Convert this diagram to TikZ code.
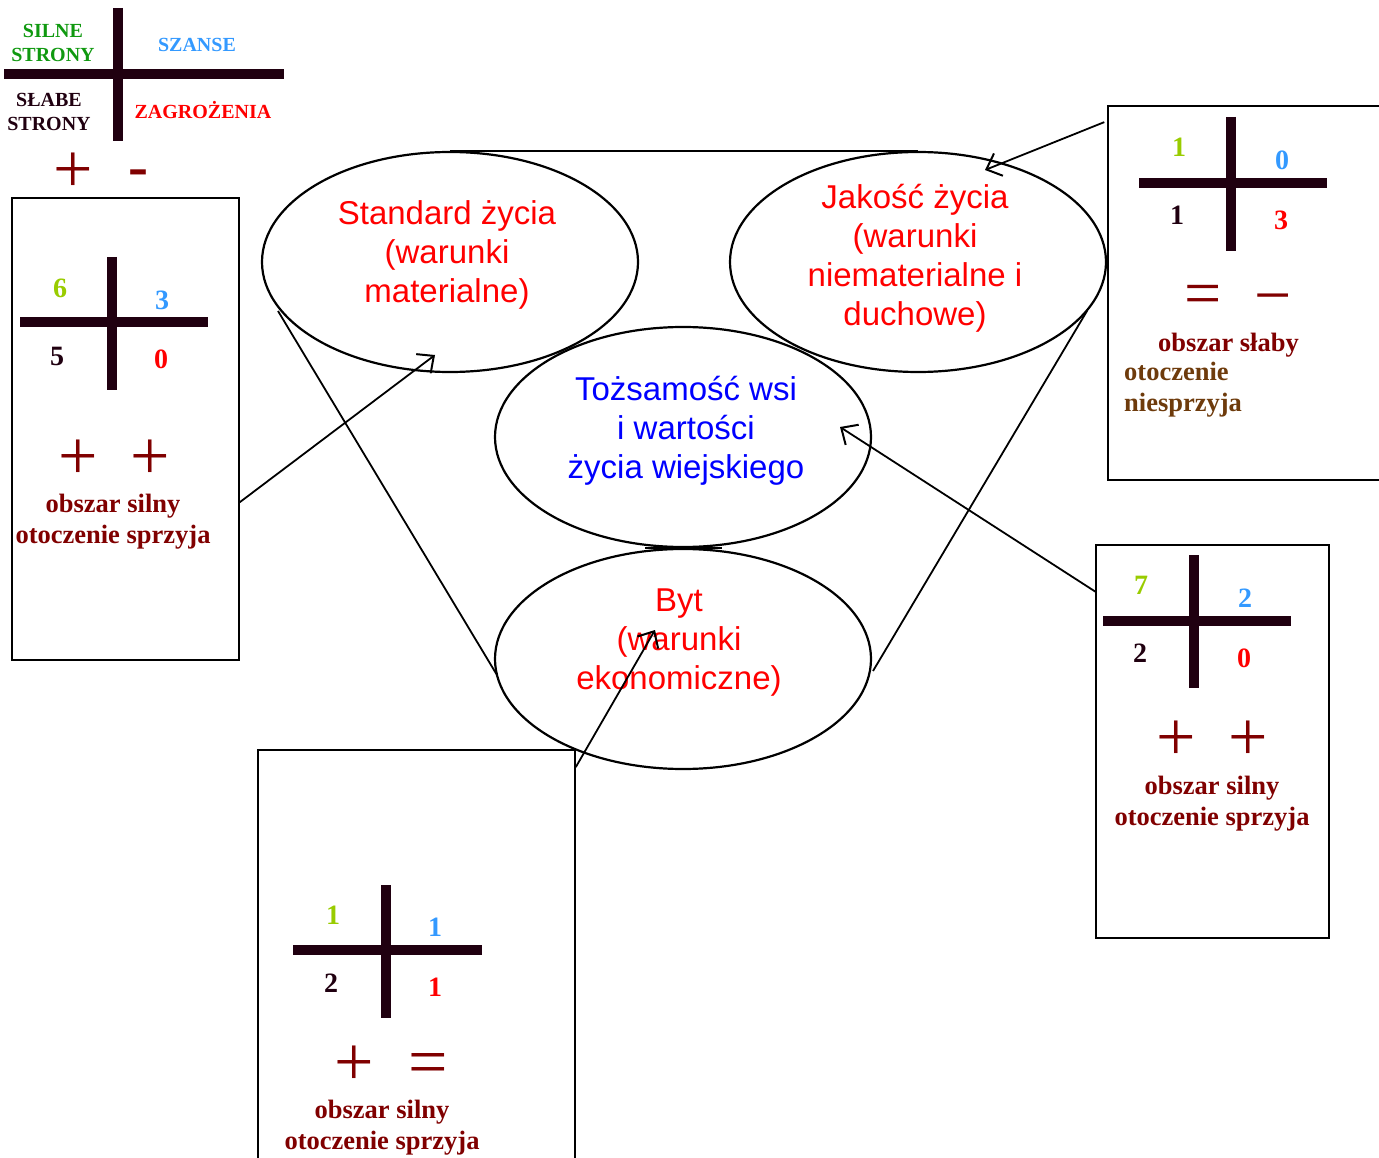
\documentclass[tikz,border=0pt]{standalone}
\usepackage{fontspec}
\setmainfont{Liberation Serif}
\setsansfont{Liberation Sans}
\usetikzlibrary{shapes.geometric,arrows.meta,calc}
\definecolor{crossc}{HTML}{200010}
\definecolor{dred}{HTML}{800000}
\definecolor{lgreen}{HTML}{99CC00}
\definecolor{lblue}{HTML}{3399FF}
\definecolor{sgreen}{HTML}{109910}
\definecolor{brownc}{HTML}{6E3B0C}
\tikzset{
  ell/.style={draw, ellipse, line width=2.2pt, minimum width=376pt, minimum height=220pt, inner sep=0pt},
  etxt/.style={font=\sffamily\fontsize{33}{39}\selectfont, align=center, inner sep=0pt},
  box/.style={draw, line width=1.5pt, rectangle, inner sep=0pt},
  bar/.style={line width=10pt, crossc},
  num/.style={font=\bfseries\fontsize{28}{30}\selectfont, inner sep=0pt},
  sym/.style={font=\fontsize{70}{70}\selectfont, text=dred, inner sep=0pt},
  lab/.style={font=\bfseries\fontsize{26.5}{31}\selectfont, text=dred, align=center, inner sep=0pt},
  leg/.style={font=\bfseries\fontsize{20}{24}\selectfont, align=center, inner sep=0pt},
  arr/.style={-{Straight Barb[length=13pt,width=24pt,line width=2pt]}, line width=1.8pt},
  cone/.style={line width=1.8pt}
}
\begin{document}
\begin{tikzpicture}[x=1pt,y=-1pt]
\useasboundingbox (0,0) rectangle (1379,1158);
% legend
\draw[bar] (118,8) -- (118,141);
\draw[bar] (4,74) -- (284,74);
\node[leg, text=sgreen] (lS) at (53,43) {SILNE\\STRONY};
\node[leg, text=lblue] (lO) at (197,45) {SZANSE};
\node[leg, text=crossc] (lW) at (49,112) {SŁABE\\STRONY};
\node[leg, text=red] (lT) at (203,110) {ZAGROŻENIA};
\node[sym] (lp) at (73,173) {+};
\node[sym, font=\bfseries\fontsize{60}{60}\selectfont] (lm) at (138,178) {-};

% ellipses
\node[ell] (std) at (450,262) {};
\node[ell] (jak) at (918,262) {};
\node[ell] (toz) at (683,437) {};
\node[ell] (byt) at (683,659) {};
\draw[line width=2.4pt] (std.north) -- (jak.north);
\draw[line width=2.4pt] ($(toz.south)+(-38,0)$) -- ($(toz.south)+(39,0)$);
\draw[cone] ($(std.center)+(-172,49)$) -- ($(byt.center)+(-186,16)$);
\draw[cone] ($(jak.center)+(169,49)$) -- ($(byt.center)+(190,12)$);
\node[etxt, text=red] (stdt) at (447,255) {Standard życia\\(warunki\\materialne)};
\node[etxt, text=red] (jakt) at (915,258) {Jakość życia\\(warunki\\niematerialne i\\duchowe)};
\node[etxt, text=blue] (tozt) at (686,431) {Tożsamość wsi\\i wartości\\życia wiejskiego};
\node[etxt, text=red] (bytt) at (679,643) {Byt\\(warunki\\ekonomiczne)};

% left box
\node[box, minimum width=227pt, minimum height=462pt] (bL) at (125.5,429) {};
\draw[bar] (112,257) -- (112,390);
\draw[bar] (20,322) -- (208,322);
\node[num, text=lgreen] (bL1) at (60,288) {6};
\node[num, text=lblue] (bL2) at (162,300) {3};
\node[num, text=crossc] (bL3) at (57,356) {5};
\node[num, text=red] (bL4) at (161,359) {0};
\node[sym] (bLp1) at (78,460) {+};
\node[sym] (bLp2) at (150,460) {+};
\node[lab] (bLt) at (113,522) {obszar silny\\otoczenie sprzyja};

% top right box
\node[box, minimum width=276pt, minimum height=374pt] (bR) at (1246,293) {};
\draw[bar] (1231,117) -- (1231,251);
\draw[bar] (1139,183) -- (1327,183);
\node[num, text=lgreen] (bR1) at (1179,147) {1};
\node[num, text=lblue] (bR2) at (1282,160) {0};
\node[num, text=crossc] (bR3) at (1177,215) {1};
\node[num, text=red] (bR4) at (1281,220) {3};
\node[sym, font=\fontsize{66}{66}\selectfont] (bRe) at (1203,300) {=};
\node[sym, font=\fontsize{66}{66}\selectfont] (bRm) at (1273,306) {−};
\node[lab, anchor=west] (bRt1) at (1158,345) {obszar słaby};
\node[lab, anchor=west, text=brownc, align=left] (bRt2) at (1124,390) {otoczenie\\niesprzyja};

% middle right box
\node[box, minimum width=233pt, minimum height=393pt] (bM) at (1212.5,741.5) {};
\draw[bar] (1194,555) -- (1194,688);
\draw[bar] (1103,621) -- (1291,621);
\node[num, text=lgreen] (bM1) at (1141,585) {7};
\node[num, text=lblue] (bM2) at (1245,598) {2};
\node[num, text=crossc] (bM3) at (1140,653) {2};
\node[num, text=red] (bM4) at (1244,658) {0};
\node[sym] (bMp1) at (1176,741) {+};
\node[sym] (bMp2) at (1248,741) {+};
\node[lab] (bMt) at (1212,804) {obszar silny\\otoczenie sprzyja};

% bottom box
\node[box, minimum width=317pt, minimum height=415pt] (bB) at (416.5,957.5) {};
\draw[bar] (386,885) -- (386,1018);
\draw[bar] (293,950) -- (482,950);
\node[num, text=lgreen] (bB1) at (333,915) {1};
\node[num, text=lblue] (bB2) at (435,927) {1};
\node[num, text=crossc] (bB3) at (331,983) {2};
\node[num, text=red] (bB4) at (435,987) {1};
\node[sym] (bBp) at (354,1066) {+};
\node[sym] (bBe) at (428,1069) {=};
\node[lab] (bBt) at (382,1128) {obszar silny\\otoczenie sprzyja};

% arrows
\draw[arr] ($(bL.north east)!0.658!(bL.south east)$) -- ($(std.center)+(-15,93)$);
\draw[arr] ($(bR.north west)!0.045!(bR.south west)+(-3,0)$) -- ($(jak.center)+(67,-92)$);
\draw[arr] ($(bM.north west)!0.12!(bM.south west)$) -- ($(toz.center)+(157,-10)$);
\draw[arr] ($(bB.north east)!0.043!(bB.south east)$) -- ($(byt.center)+(-28,-29)$);
\end{tikzpicture}
\end{document}
